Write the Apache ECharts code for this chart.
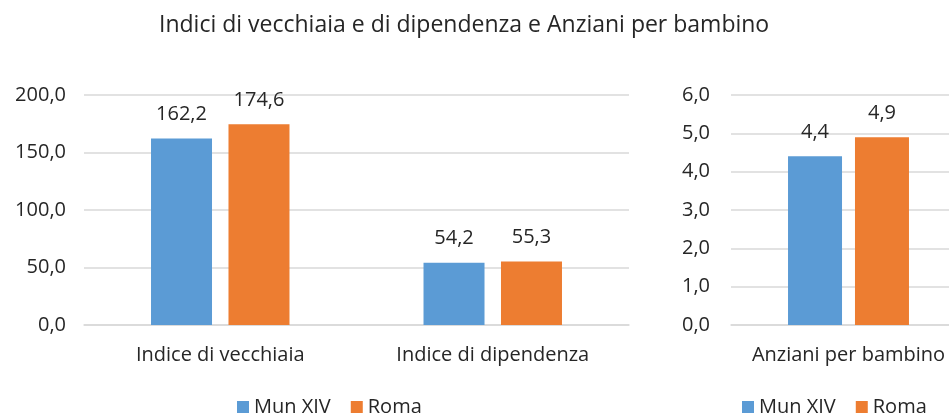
<!DOCTYPE html>
<html><head><meta charset="utf-8">
<script src="https://cdn.jsdelivr.net/npm/echarts@6/dist/echarts.min.js"></script>
<style>html,body{margin:0;padding:0;background:#fff}#c{width:949px;height:415px}</style>
</head><body><div id="c"></div>
<script>
const title = 'Indici di vecchiaia e di dipendenza e Anziani per bambino';
const seriesNames = ['Mun XIV', 'Roma'];
const catsLeft = ['Indice di vecchiaia', 'Indice di dipendenza'];
const munLeft = [162.2, 54.2];
const romaLeft = [174.6, 55.3];
const catsRight = ['Anziani per bambino'];
const munRight = [4.4];
const romaRight = [4.9];
const ticksLeft = [0, 50, 100, 150, 200];
const ticksRight = [0, 1, 2, 3, 4, 5, 6];

const FONT = 'Open Sans';
const TXT = '#262626';
const FS = 20;
const fmt = v => Number(v).toFixed(1).replace('.', ',');
const colors = ['#5B9BD5', '#ED7D31'];

function barSeries(name, data, idx, color, width, gap) {
  return {
    name, type: 'bar', data, xAxisIndex: idx, yAxisIndex: idx,
    barWidth: width, barGap: gap,
    itemStyle: { color },
    label: { show: true, position: 'top', distance: 14, color: TXT, fontFamily: FONT, fontSize: FS,
      formatter: p => fmt(p.value) }
  };
}
const yAx = (idx, ticks, margin) => ({
  type: 'value', gridIndex: idx, min: ticks[0], max: ticks[ticks.length - 1],
  interval: ticks[1] - ticks[0],
  axisLine: { show: false }, axisTick: { show: false },
  splitLine: { lineStyle: { color: '#D9D9D9', width: 1.5 } },
  axisLabel: { color: TXT, fontFamily: FONT, fontSize: FS, margin, formatter: v => fmt(v) }
});
const xAx = (idx, cats) => ({
  type: 'category', gridIndex: idx, data: cats,
  axisLine: { show: true, lineStyle: { color: '#D9D9D9', width: 1.5 } }, axisTick: { show: false },
  axisLabel: { color: TXT, fontFamily: FONT, fontSize: FS, margin: 20 }
});
const legendCommon = {
  data: seriesNames, top: 397, padding: 0, icon: 'rect', itemWidth: 12, itemHeight: 12, itemGap: 20,
  textStyle: { color: TXT, fontFamily: FONT, fontSize: FS }, selectedMode: false
};

const chart = echarts.init(document.getElementById('c'), null, { renderer: 'canvas' });
chart.setOption({
  animation: false,
  title: { text: title, left: 154, top: 9,
    textStyle: { color: TXT, fontFamily: FONT, fontSize: 23, fontWeight: 'normal' } },
  grid: [
    { left: 84, width: 545, top: 95, height: 230, outerBoundsMode: 'none' },
    { left: 731, width: 235, top: 95, height: 230, outerBoundsMode: 'none' }
  ],
  xAxis: [xAx(0, catsLeft), xAx(1, catsRight)],
  yAxis: [yAx(0, ticksLeft, 18), yAx(1, ticksRight, 21)],
  legend: [
    Object.assign({}, legendCommon, { left: 237 }),
    Object.assign({}, legendCommon, { left: 742 })
  ],
  series: [
    barSeries(seriesNames[0], munLeft, 0, colors[0], 61, '27%'),
    barSeries(seriesNames[1], romaLeft, 0, colors[1], 61, '27%'),
    barSeries(seriesNames[0], munRight, 1, colors[0], 54, '24%'),
    barSeries(seriesNames[1], romaRight, 1, colors[1], 54, '24%')
  ]
});
</script></body></html>
